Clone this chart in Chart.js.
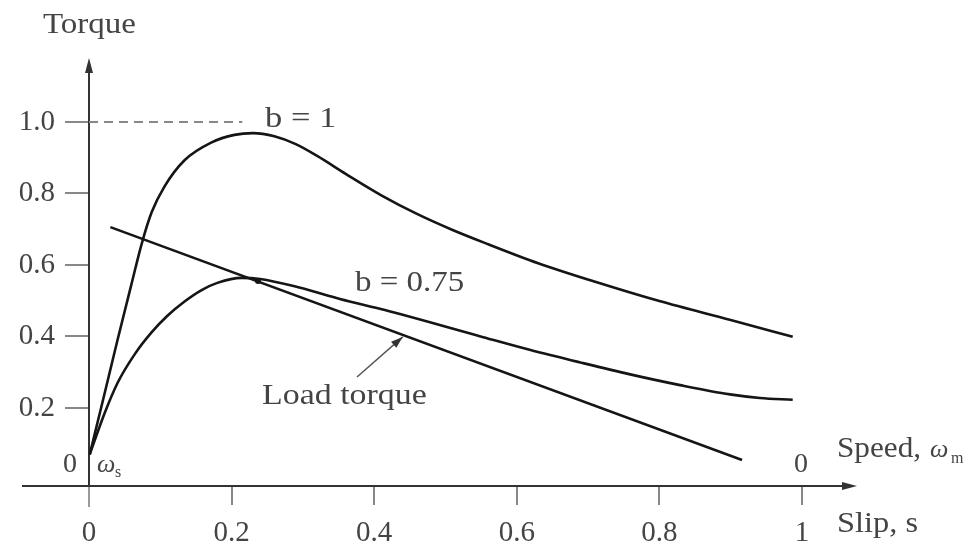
<!DOCTYPE html>
<html>
<head>
<meta charset="utf-8">
<script src="https://cdn.jsdelivr.net/npm/chart.js@4.4.1/dist/chart.umd.min.js"></script>
<style>
  body { margin: 0; background: #fff; }
  #wrap { width: 968px; height: 544px; }
</style>
</head>
<body>
<div id="wrap"><canvas id="myChart"></canvas></div>
<script>
// slip values and torque
const slipB1 = [0.001, 0.02, 0.040, 0.060, 0.074, 0.088, 0.106, 0.134, 0.172, 0.204, 0.23, 0.26, 0.29, 0.32, 0.36, 0.41, 0.46, 0.51, 0.56, 0.63, 0.71, 0.80, 0.90, 0.987];
const torqueB1 = [0.07, 0.225, 0.390, 0.550, 0.660, 0.748, 0.820, 0.893, 0.943, 0.964, 0.969, 0.960, 0.938, 0.905, 0.855, 0.795, 0.743, 0.698, 0.658, 0.605, 0.553, 0.499, 0.446, 0.399];

const slipB075 = [0.001, 0.022, 0.040, 0.064, 0.088, 0.110, 0.134, 0.158, 0.180, 0.214, 0.240, 0.295, 0.352, 0.415, 0.548, 0.618, 0.688, 0.759, 0.829, 0.899, 0.941, 0.987];
const torqueB075 = [0.07, 0.186, 0.270, 0.350, 0.412, 0.458, 0.498, 0.530, 0.550, 0.564, 0.561, 0.537, 0.505, 0.474, 0.401, 0.363, 0.328, 0.294, 0.264, 0.238, 0.228, 0.223];

const loadSlip = [0.030, 0.916];
const loadTorque = [0.706, 0.0545];

const peakRefSlip = [0, 0.215];
const peakRefTorque = [1.0, 1.0];

const operatingSlip = [0.237];
const operatingTorque = [0.555];

const slipTicks = [0, 0.2, 0.4, 0.6, 0.8, 1];
const slipTickLabels = ["0", "0.2", "0.4", "0.6", "0.8", "1"];
const torqueTicks = [0.2, 0.4, 0.6, 0.8, 1.0];
const torqueTickLabels = ["0.2", "0.4", "0.6", "0.8", "1.0"];

function toPoints(xs, ys) {
    return xs.map((x, i) => ({ x: x, y: ys[i] }));
}

const serif = "'Liberation Serif', 'DejaVu Serif', serif";
const ink = "#151515";
const textColor = "#444";

// the scanned lettering is a bit wider than the font
function wideText(ctx, str, x, y, stretch) {
    ctx.save();
    ctx.translate(x, y);
    ctx.scale(stretch, 1);
    ctx.fillText(str, 0, 0);
    ctx.restore();
}

const axesPlugin = {
    id: "axesPlugin",
    beforeDatasetsDraw(chart) {
        const ctx = chart.ctx;
        const xs = chart.scales.x;
        const ys = chart.scales.y;
        const x0 = xs.getPixelForValue(0);
        const yAxis = ys.bottom;
        const top = ys.top;
        const right = xs.right;
        ctx.save();
        ctx.lineWidth = 2;
        ctx.strokeStyle = "#333";
        ctx.beginPath();
        ctx.moveTo(x0, top + 6);
        ctx.lineTo(x0, yAxis);
        ctx.stroke();
        ctx.strokeStyle = "#999";
        ctx.beginPath();
        ctx.moveTo(x0, yAxis);
        ctx.lineTo(x0, yAxis + 21);
        ctx.stroke();
        ctx.strokeStyle = "#333";
        ctx.beginPath();
        ctx.moveTo(22, yAxis);
        ctx.lineTo(right - 6, yAxis);
        ctx.stroke();
        ctx.fillStyle = "#333";
        ctx.beginPath();
        ctx.moveTo(x0, top);
        ctx.lineTo(x0 - 4, top + 15);
        ctx.lineTo(x0 + 4, top + 15);
        ctx.closePath();
        ctx.fill();
        ctx.beginPath();
        ctx.moveTo(right, yAxis);
        ctx.lineTo(right - 15, yAxis - 4);
        ctx.lineTo(right - 15, yAxis + 4);
        ctx.closePath();
        ctx.fill();
        ctx.restore();
    },
    afterDraw(chart) {
        const ctx = chart.ctx;
        const xs = chart.scales.x;
        const ys = chart.scales.y;
        ctx.save();
        ctx.fillStyle = textColor;
        ctx.textBaseline = "alphabetic";
        ctx.textAlign = "left";
        ctx.font = "30px " + serif;
        wideText(ctx, "Torque", 43, 33, 1.1);
        wideText(ctx, "b = 1", 265, 127, 1.15);
        wideText(ctx, "b = 0.75", 355, 291, 1.1);
        wideText(ctx, "Load torque", 262, 404, 1.13);
        wideText(ctx, "Slip, s", 837, 532, 1.08);
        wideText(ctx, "Speed,", 837, 457, 1.04);
        ctx.font = "28px " + serif;
        ctx.textAlign = "center";
        ctx.fillText("0", 70, 472);
        ctx.fillText("0", 801, 472);
        ctx.textAlign = "left";
        ctx.font = "italic 26px " + serif;
        ctx.fillText("\u03c9", 97, 472);
        ctx.fillText("\u03c9", 930, 457);
        ctx.font = "16px " + serif;
        ctx.fillText("s", 115, 477);
        ctx.fillText("m", 951, 463);

        // pointer to the load line
        ctx.strokeStyle = "#555";
        ctx.fillStyle = "#333";
        ctx.lineWidth = 1.5;
        const tipX = xs.getPixelForValue(0.44);
        const tipY = ys.getPixelForValue(loadTorque[0] + (0.44 - loadSlip[0]) * (loadTorque[1] - loadTorque[0]) / (loadSlip[1] - loadSlip[0])) + 2;
        ctx.beginPath();
        ctx.moveTo(357, 377);
        ctx.lineTo(tipX, tipY);
        ctx.stroke();
        const ang = Math.atan2(tipY - 377, tipX - 357);
        ctx.beginPath();
        ctx.moveTo(tipX, tipY);
        ctx.lineTo(tipX - 12 * Math.cos(ang) + 4 * Math.sin(ang), tipY - 12 * Math.sin(ang) - 4 * Math.cos(ang));
        ctx.lineTo(tipX - 12 * Math.cos(ang) - 4 * Math.sin(ang), tipY - 12 * Math.sin(ang) + 4 * Math.cos(ang));
        ctx.closePath();
        ctx.fill();
        ctx.restore();
    }
};

const graph = document.getElementById("myChart").getContext("2d");
let myChart = new Chart(graph, {
    type: "line",
    data: {
        datasets: [
            {
                label: "b = 1",
                data: toPoints(slipB1, torqueB1),
                borderColor: ink,
                borderWidth: 2.6,
                pointRadius: 0,
                cubicInterpolationMode: "monotone",
            },
            {
                label: "b = 0.75",
                data: toPoints(slipB075, torqueB075),
                borderColor: ink,
                borderWidth: 2.6,
                pointRadius: 0,
                cubicInterpolationMode: "monotone",
            },
            {
                label: "Load torque",
                data: toPoints(loadSlip, loadTorque),
                borderColor: ink,
                borderWidth: 2.6,
                pointRadius: 0,
            },
            {
                label: "peak",
                data: toPoints(peakRefSlip, peakRefTorque),
                borderColor: "#888",
                borderWidth: 2,
                borderDash: [9, 6],
                pointRadius: 0,
            },
            {
                label: "operating point",
                data: toPoints(operatingSlip, operatingTorque),
                showLine: false,
                pointRadius: 3,
                pointBackgroundColor: ink,
                pointBorderWidth: 0,
            },
        ],
    },
    options: {
        responsive: true,
        maintainAspectRatio: false,
        animation: false,
        layout: { padding: { top: 58, right: 111, left: 0, bottom: 0 } },
        plugins: {
            legend: { display: false },
            tooltip: { enabled: false },
        },
        scales: {
            x: {
                type: "linear",
                min: 0,
                max: 1.0772,
                afterFit: (s) => { s.height = 58; },
                afterBuildTicks: (s) => { s.ticks = slipTicks.map((v) => ({ value: v })); },
                border: { display: false },
                grid: { drawOnChartArea: false, drawTicks: true, tickLength: 19, color: "#888", lineWidth: 2 },
                ticks: {
                    padding: 11,
                    maxRotation: 0,
                    autoSkip: false,
                    color: textColor,
                    font: { family: serif, size: 29 },
                    callback: (v) => slipTickLabels[slipTicks.indexOf(v)],
                },
            },
            y: {
                type: "linear",
                min: -0.0182,
                max: 1.179,
                afterFit: (s) => { s.width = 89; },
                afterBuildTicks: (s) => { s.ticks = torqueTicks.map((v) => ({ value: v })); },
                border: { display: false },
                grid: { drawOnChartArea: false, drawTicks: true, tickLength: 24, color: "#888", lineWidth: 2 },
                ticks: {
                    padding: 10,
                    autoSkip: false,
                    color: textColor,
                    font: { family: serif, size: 29 },
                    callback: (v) => torqueTickLabels[torqueTicks.indexOf(v)],
                },
            },
        },
    },
    plugins: [axesPlugin],
});
</script>
</body>
</html>
